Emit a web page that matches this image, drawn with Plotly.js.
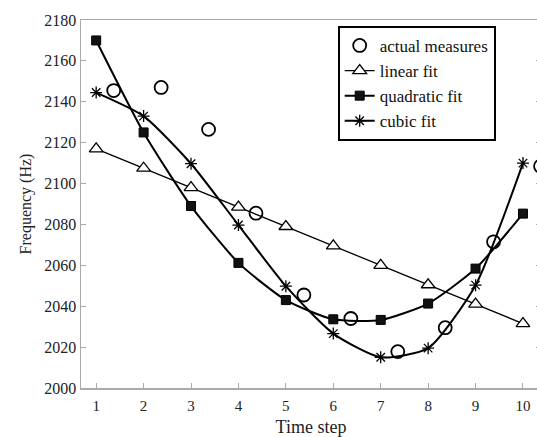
<!DOCTYPE html>
<html>
<head>
<meta charset="utf-8">
<script src="https://cdn.plot.ly/plotly-3.0.1.min.js"></script>
<style>html,body{margin:0;padding:0;background:#fff;overflow:hidden;}#chart{width:541px;height:437px;}</style>
</head>
<body>
<div id="chart"></div>
<script>
var timeSteps = [1, 2, 3, 4, 5, 6, 7, 8, 9, 10];
var measureSteps = [1.37, 2.37, 3.37, 4.37, 5.38, 6.37, 7.36, 8.36, 9.38, 10.37];
var actualMeasures = [2145.5, 2147, 2126.5, 2085.5, 2045.5, 2034, 2017.8, 2029.5, 2071.5, 2108.5];
var linearFit = [2117, 2107.5, 2098, 2088.5, 2079, 2069.5, 2060, 2050.5, 2041, 2031.5];
var quadraticFit = [2170, 2125, 2089, 2061.2, 2043, 2033.6, 2033.3, 2041.3, 2058.4, 2085.3];
var cubicFit = [2144.5, 2133, 2109.7, 2079.7, 2049.8, 2026.6, 2015, 2019.5, 2050.3, 2110];
var xTicks = [1, 2, 3, 4, 5, 6, 7, 8, 9, 10];
var yTicks = [2000, 2020, 2040, 2060, 2080, 2100, 2120, 2140, 2160, 2180];

var serif = '"Liberation Serif", "Times New Roman", serif';

var traces = [
  {x: measureSteps, y: actualMeasures, name: 'actual measures', mode: 'markers', cliponaxis: false,
   marker: {symbol: 'circle-open', size: 13, color: '#000', line: {width: 1.8, color: '#000'}}},
  {x: timeSteps, y: linearFit, name: 'linear fit', mode: 'lines+markers',
   line: {color: '#000', width: 1.3},
   marker: {symbol: 'triangle-up', size: 12, color: '#fff', line: {width: 1.3, color: '#000'}}},
  {x: timeSteps, y: quadraticFit, name: 'quadratic fit', mode: 'lines+markers',
   line: {color: '#000', width: 2, shape: 'spline', smoothing: 0.6},
   marker: {symbol: 'square', size: 9, color: '#111', line: {width: 1, color: '#000'}}},
  {x: timeSteps, y: cubicFit, name: 'cubic fit', mode: 'lines+markers',
   line: {color: '#000', width: 2, shape: 'spline', smoothing: 0.6},
   marker: {symbol: 'asterisk-open', size: 10, color: '#000', line: {width: 1.3, color: '#000'}}}
];

var layout = {
  width: 541, height: 437,
  margin: {l: 81, r: 0, t: 20, b: 49},
  paper_bgcolor: '#fff', plot_bgcolor: '#fff',
  font: {family: serif, size: 15, color: '#222'},
  showlegend: true,
  legend: {x: 0.558, y: 0.984, xanchor: 'left', yanchor: 'top',
           bgcolor: '#fff', bordercolor: '#000', borderwidth: 2,
           font: {family: serif, size: 17, color: '#111'}},
  xaxis: {range: [0.68, 10.38], tickvals: xTicks, ticktext: xTicks.map(String),
          showgrid: false, zeroline: false, showline: true, linecolor: '#aaa', linewidth: 1.5,
          mirror: true, ticks: 'inside', ticklen: 5, tickcolor: '#aaa', tickwidth: 1,
          ticklabelstandoff: 3,
          tickfont: {family: serif, size: 15, color: '#222'},
          title: {text: 'Time step', font: {family: serif, size: 18, color: '#222'}, standoff: 9}},
  yaxis: {range: [2000, 2180], tickvals: yTicks, ticktext: yTicks.map(String),
          showgrid: false, zeroline: false, showline: true, linecolor: '#aaa', linewidth: 1.5,
          mirror: 'ticks', ticks: 'inside', ticklen: 5, tickcolor: '#aaa', tickwidth: 1,
          tickfont: {family: serif, size: 16, color: '#222'},
          title: {text: 'Frequency (Hz)', font: {family: serif, size: 16, color: '#222'}, standoff: 8}}
};

Plotly.newPlot('chart', traces, layout, {displayModeBar: false, staticPlot: true});
</script>
</body>
</html>
